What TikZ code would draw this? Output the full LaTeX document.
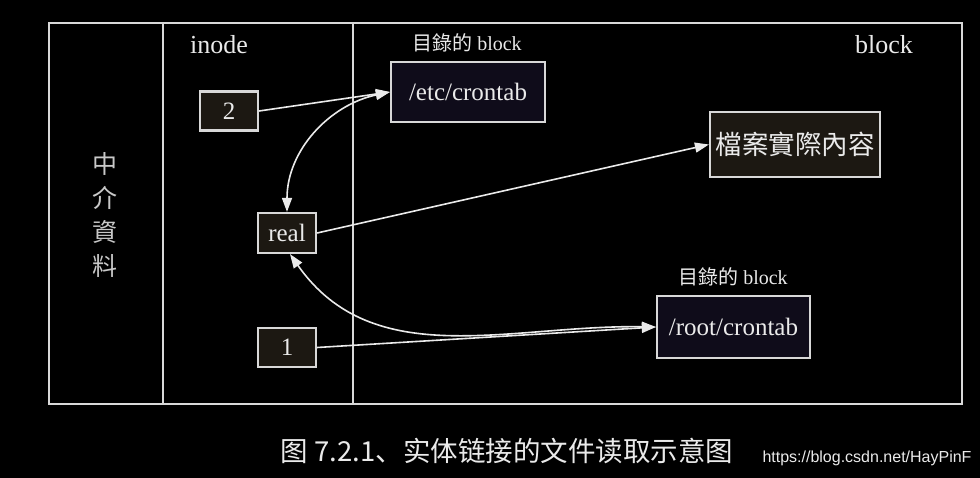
\documentclass[tikz,border=0pt]{standalone}
\usepackage{fontspec}
\setmainfont{Liberation Serif}
\newfontfamily\tcfont{Noto Sans CJK TC}
\newfontfamily\scfont{Noto Sans CJK SC}
\newfontfamily\wmfont{Liberation Sans}
\usetikzlibrary{arrows.meta}
\definecolor{ink}{HTML}{EAEAEA}
\definecolor{framec}{HTML}{D8D8D8}
\definecolor{brownfill}{HTML}{1C1812}
\definecolor{navyfill}{HTML}{0F0C1A}
\definecolor{greytext}{HTML}{C8C8C8}
\begin{document}
\begin{tikzpicture}[x=1pt,y=-1pt,
  box/.style={draw=framec, line width=2.2pt, fill=brownfill, text=ink, inner sep=0pt,
    font=\fontsize{25}{28}\selectfont},
  navybox/.style={box, fill=navyfill},
  lbl/.style={text=ink, inner sep=0pt},
  conn/.style={draw=ink, line width=1.6pt, -{Triangle[length=14pt,width=10pt]}},
  dconn/.style={draw=ink, line width=1.6pt, {Triangle[length=14pt,width=10pt]}-{Triangle[length=14pt,width=10pt]}}]
\fill[black] (0,0) rectangle (980,478);
\useasboundingbox (0,0) rectangle (980,478);
% frame
\draw[framec, line width=2pt] (49,23) rectangle (962,404);
\draw[framec, line width=2pt] (163,23) -- (163,404);
\draw[framec, line width=2pt] (353,23) -- (353,404);
% column labels
\node[lbl, font=\fontsize{26}{28}\selectfont] (inode) at (219,45) {inode};
\node[lbl, font=\fontsize{26}{28}\selectfont] (blk) at (884,45) {block};
\node[lbl, font=\fontsize{20}{22}\selectfont] (dir1) at (467,43) {{\tcfont 目錄的} block};
\node[lbl, font=\fontsize{20}{22}\selectfont] (dir2) at (733,277) {{\tcfont 目錄的} block};
\node[text=greytext, inner sep=0pt, font=\tcfont\fontsize{25}{34}\selectfont, align=center] (meta) at (105,215) {中\\介\\資\\料};
% boxes
\node[box, minimum width=58, minimum height=39] (n2) at (229,111) {2};
\node[box, minimum width=58, minimum height=40] (real) at (287,233) {real};
\node[box, minimum width=58, minimum height=39] (n1) at (287,347.5) {1};
\node[navybox, minimum width=154, minimum height=60] (etc) at (468,92) {/etc/crontab};
\node[box, minimum width=170, minimum height=65, font=\tcfont\fontsize{26.5}{28}\selectfont] (file) at (795,144.5) {檔案實際內容};
\node[navybox, minimum width=153, minimum height=62] (root) at (733.5,327) {/root/crontab};
% connectors
\draw[conn] (n2.east) -- (etc.west);
\draw[dconn] (real.north) to[out=90, in=192] (etc.west);
\draw[conn] (real.east) -- (file.west);
\draw[dconn] ([xshift=3pt]real.south) to[out=-55, in=179] (root.west);
\draw[conn] (n1.east) -- (root.west);
% caption
\node[lbl, font=\scfont\fontsize{27.5}{30}\selectfont] (cap) at (507,451) {图 7.2.1、实体链接的文件读取示意图};
\node[lbl, font=\wmfont\fontsize{16}{18}\selectfont] (wm) at (867,458) {https://blog.csdn.net/HayPinF};
\end{tikzpicture}
\end{document}
